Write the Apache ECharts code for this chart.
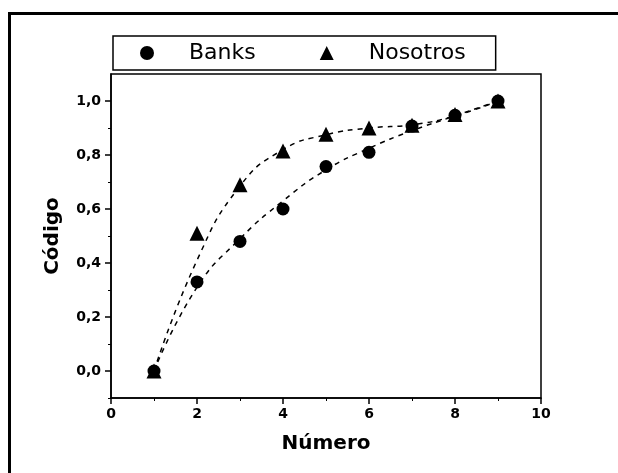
<!DOCTYPE html>
<html>
<head>
<meta charset="utf-8">
<script src="https://cdn.jsdelivr.net/npm/echarts@6/dist/echarts.min.js"></script>
<style>html,body{margin:0;padding:0;background:#fff}#c{width:618px;height:473px}</style>
</head>
<body>
<div id="c"></div>
<script>
var xValues = [1, 2, 3, 4, 5, 6, 7, 8, 9];
var banks = [0.0, 0.33, 0.48, 0.60, 0.757, 0.81, 0.907, 0.947, 1.0];
var nosotros = [0.0, 0.51, 0.69, 0.815, 0.877, 0.90, 0.91, 0.95, 1.0];
var banksFit = [0.0, 0.31, 0.49, 0.63, 0.745, 0.825, 0.89, 0.945, 1.0];
var nosotrosFit = [0.0, 0.41, 0.685, 0.82, 0.875, 0.90, 0.912, 0.945, 1.0];
var seriesNames = ['Banks', 'Nosotros'];
var yMajorTicks = [0, 0.2, 0.4, 0.6, 0.8, 1.0];
var yMinorTicks = [-0.1, 0.1, 0.3, 0.5, 0.7, 0.9];

function pairs(xs, ys) { return xs.map(function (x, i) { return [x, ys[i]]; }); }

var chart = echarts.init(document.getElementById('c'));
var axisFont = 'DejaVu Sans';
chart.setOption({
  animation: false,
  backgroundColor: '#fff',
  graphic: [{
    type: 'rect', left: 7, top: 11, shape: { width: 700, height: 600 },
    style: { fill: 'none', stroke: '#000', lineWidth: 3 }, z: 100
  }],
  legend: {
    left: 113, top: 36,
    orient: 'horizontal',
    data: [{ name: 'Banks', icon: 'circle' }, { name: 'Nosotros', icon: 'triangle' }],
    itemWidth: 14, itemHeight: 14, itemGap: 64,
    padding: [6, 30, 6, 27],
    borderColor: '#000', borderWidth: 1.5,
    itemStyle: { opacity: 1 },
    textStyle: { fontFamily: axisFont, fontSize: 22, color: '#000', padding: [0, 0, 0, 30] },
    selectedMode: false
  },
  grid: { left: 111, top: 74, right: 77, bottom: 75, show: true, borderColor: '#000', borderWidth: 1.5, containLabel: false },
  xAxis: {
    type: 'value', min: 0, max: 10, interval: 2,
    name: 'Número', nameLocation: 'middle', nameGap: 36,
    nameTextStyle: { fontFamily: axisFont, fontWeight: 'bold', fontSize: 20, color: '#000' },
    axisLine: { onZero: false, lineStyle: { color: '#000', width: 1.5 } },
    axisTick: { inside: false, length: 6, lineStyle: { color: '#000', width: 1.5 } },
    minorTick: { show: true, splitNumber: 2, length: 3, lineStyle: { color: '#000', width: 1 } },
    axisLabel: { fontFamily: axisFont, fontWeight: 'bold', fontSize: 14, color: '#000', margin: 9 },
    splitLine: { show: false }
  },
  yAxis: [{
    type: 'value', min: -0.1, max: 1.1, interval: 0.1,
    name: 'Código', nameLocation: 'middle', nameGap: 48,
    nameTextStyle: { fontFamily: axisFont, fontWeight: 'bold', fontSize: 20, color: '#000' },
    axisLine: { onZero: false, lineStyle: { color: '#000', width: 1.5 } },
    axisTick: { show: true, length: 6, customValues: yMajorTicks, lineStyle: { color: '#000', width: 1.5 } },
    axisLabel: {
      show: true, customValues: yMajorTicks, margin: 10,
      fontFamily: axisFont, fontWeight: 'bold', fontSize: 14, color: '#000',
      formatter: function (v) { return v.toFixed(1).replace('.', ','); }
    },
    splitLine: { show: false }
  }, {
    type: 'value', min: -0.1, max: 1.1, interval: 0.1, position: 'left',
    axisLine: { show: false },
    axisTick: { show: true, length: 3, customValues: yMinorTicks, lineStyle: { color: '#000', width: 1 } },
    axisLabel: { show: false },
    splitLine: { show: false }
  }],
  series: [
    {
      name: 'Banks-fit', type: 'line', data: pairs(xValues, banksFit), smooth: true, showSymbol: false,
      lineStyle: { color: '#000', width: 1.5, type: [5, 5] }, silent: true, z: 2
    },
    {
      name: 'Nosotros-fit', type: 'line', data: pairs(xValues, nosotrosFit), smooth: true, showSymbol: false,
      lineStyle: { color: '#000', width: 1.5, type: [5, 5] }, silent: true, z: 2
    },
    {
      name: seriesNames[0], type: 'scatter', data: pairs(xValues, banks), symbol: 'circle', symbolSize: 13,
      itemStyle: { color: '#000', opacity: 1 }, z: 3
    },
    {
      name: seriesNames[1], type: 'scatter', data: pairs(xValues, nosotros), symbol: 'triangle', symbolSize: 15,
      itemStyle: { color: '#000', opacity: 1 }, z: 4
    }
  ]
});
</script>
</body>
</html>
